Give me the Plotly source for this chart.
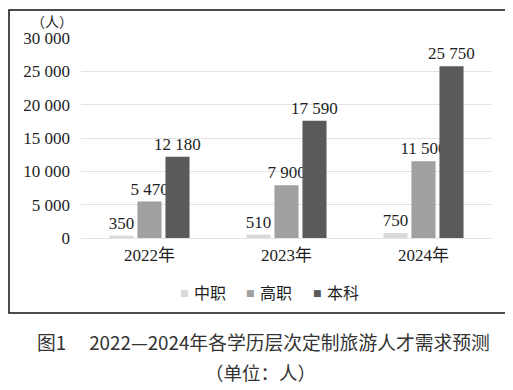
import plotly.graph_objects as go

categories = ["2022年", "2023年", "2024年"]
series_names = ["中职", "高职", "本科"]
zhongzhi = [350, 510, 750]
gaozhi = [5470, 7900, 11500]
benke = [12180, 17590, 25750]
label_zhongzhi = ["350", "510", "750"]
label_gaozhi = ["5 470", "7 900", "11 500"]
label_benke = ["12 180", "17 590", "25 750"]
y_tickvals = [0, 5000, 10000, 15000, 20000, 25000, 30000]
y_ticktext = ["0", "5 000", "10 000", "15 000", "20 000", "25 000", "30 000"]
colors = ["#d9d9d9", "#a0a0a0", "#5a5a5a"]

SERIF = "'Liberation Serif', 'Noto Sans CJK SC', serif"
SANS = "'Noto Sans CJK SC'"

OFF = 8
W, H = 513 - OFF, 390 - OFF
PL, PR, PT, PB = 81 - OFF, 492 - OFF, 38 - OFF, 238 - OFF


def px(x):
    return (x - OFF - PL) / (PR - PL)


def py(y):
    return (PB - (y - OFF)) / (PB - PT)


fig = go.Figure()
for name, vals, labels, c in zip(series_names, [zhongzhi, gaozhi, benke],
                                 [label_zhongzhi, label_gaozhi, label_benke], colors):
    fig.add_trace(go.Bar(
        x=categories, y=vals, name=name, text=labels, textposition="outside",
        textfont=dict(family=SERIF, size=17, color="#1e1e1e"),
        constraintext="none",
        marker=dict(color=c, line=dict(width=0)), showlegend=False,
        cliponaxis=False,
    ))

fig.update_layout(
    width=W, height=H,
    margin=dict(l=PL, r=W - PR, t=PT, b=H - PB),
    paper_bgcolor="white", plot_bgcolor="white",
    barmode="group", bargap=0.387, bargroupgap=0.14,
    font=dict(family=SERIF, size=17, color="#1e1e1e"),
    xaxis=dict(showgrid=False, showline=False, ticks="", ticklabelstandoff=5,
               tickfont=dict(family=SERIF, size=17, color="#1e1e1e")),
    yaxis=dict(range=[0, 30000], tickvals=y_tickvals, ticktext=y_ticktext,
               showgrid=True, gridcolor="#e3e3e3", gridwidth=1,
               zeroline=True, zerolinecolor="#e3e3e3", zerolinewidth=1,
               showline=False, ticks="", ticklabelstandoff=10,
               tickfont=dict(family=SERIF, size=17, color="#1e1e1e")),
    showlegend=False,
)

fig.add_shape(type="rect", xref="paper", yref="paper",
              x0=px(9), x1=px(507), y0=py(313), y1=py(10),
              line=dict(color="#111", width=1.5), fillcolor="rgba(0,0,0,0)", layer="below")

legend_marker_x = [185, 251, 318]
for name, c, mx in zip(series_names, colors, legend_marker_x):
    fig.add_annotation(text="■", xref="paper", yref="paper", x=px(mx - 1), y=py(293),
                       showarrow=False, xanchor="center", yanchor="middle",
                       font=dict(family="DejaVu Sans", size=9, color=c))
    fig.add_annotation(text=name, xref="paper", yref="paper", x=px(mx + 7), y=py(292),
                       showarrow=False, xanchor="left", yanchor="middle",
                       font=dict(family=SANS, size=16, color="#1e1e1e"))

fig.add_annotation(text="（人）", xref="paper", yref="paper",
                   x=px(52), y=py(21), showarrow=False,
                   xanchor="center", yanchor="middle",
                   font=dict(family=SANS, size=14, color="#1e1e1e"))
fig.add_annotation(text="图1\u2003 2022—2024年各学历层次定制旅游人才需求预测", xref="paper", yref="paper",
                   x=px(35), y=py(341), showarrow=False,
                   xanchor="left", yanchor="middle",
                   font=dict(family=SANS, size=18.8, color="#333"))
fig.add_annotation(text="（单位：人）", xref="paper", yref="paper",
                   x=px(260), y=py(372), showarrow=False,
                   xanchor="center", yanchor="middle",
                   font=dict(family=SANS, size=18.5, color="#333"))

fig.write_html("out.html")
